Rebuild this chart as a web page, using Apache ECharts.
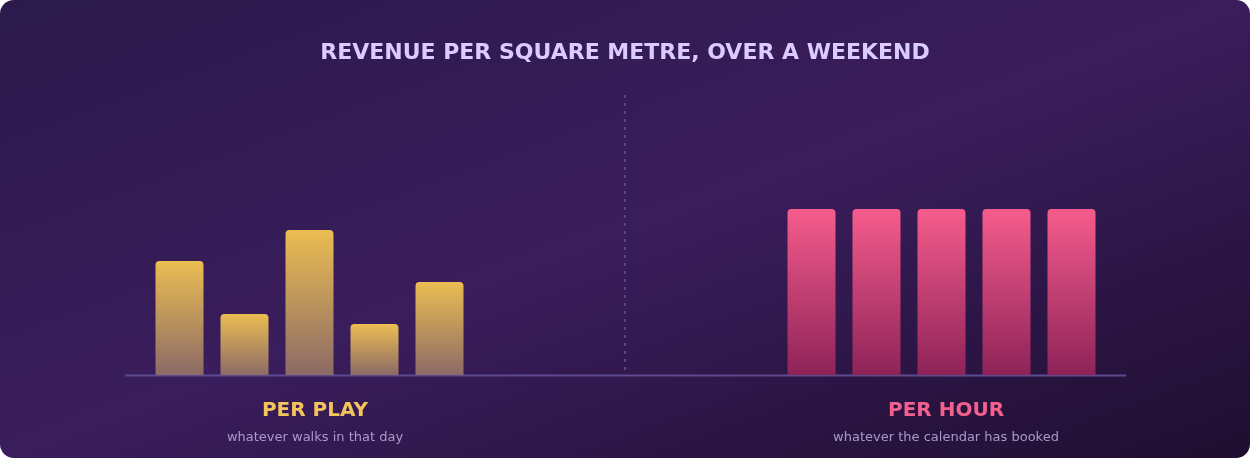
<!DOCTYPE html>
<html><head><meta charset="utf-8">
<script src="https://cdn.jsdelivr.net/npm/echarts@6/dist/echarts.min.js"></script>
<style>
html,body{margin:0;padding:0;background:#fff;}
#c{width:1250px;height:458px;border-radius:14px;overflow:hidden;
background:linear-gradient(160deg,#2b1a4b 0%,#3a1d5c 50%,#1f0e30 100%);}
</style></head><body>
<div id="c"></div>
<script>
const playCats = ['Fri','Sat AM','Sat PM','Sun AM','Sun PM'];
const playValues = [114, 61, 145, 51, 93];
const hourCats = ['Fri','Sat AM','Sat PM','Sun AM','Sun PM'];
const hourValues = [166, 166, 166, 166, 166];

const chart = echarts.init(document.getElementById('c'));
const grad = (a,b)=>new echarts.graphic.LinearGradient(0,0,0,1,[{offset:0,color:a},{offset:1,color:b}]);
const font = 'DejaVu Sans, sans-serif';
chart.setOption({
  title:[
    {text:'REVENUE PER SQUARE METRE, OVER A WEEKEND',left:'center',top:37,
     textStyle:{color:'#dccbff',fontSize:22,fontWeight:'bold',fontFamily:font}},
    {text:'PER PLAY',subtext:'whatever walks in that day',left:310,textAlign:'center',top:396,itemGap:10,
     textStyle:{color:'#f2c55a',fontSize:20,fontWeight:'bold',fontFamily:font},
     subtextStyle:{color:'#ad98cc',fontSize:13,fontFamily:font}},
    {text:'PER HOUR',subtext:'whatever the calendar has booked',left:941,textAlign:'center',top:396,itemGap:10,
     textStyle:{color:'#f2608e',fontSize:20,fontWeight:'bold',fontFamily:font},
     subtextStyle:{color:'#ad98cc',fontSize:13,fontFamily:font}}
  ],
  grid:[{left:147,width:325,top:95,bottom:83},{left:779,width:325,top:95,bottom:83}],
  xAxis:[0,1].map(i=>({type:'category',gridIndex:i,data:i?hourCats:playCats,
    axisLine:{show:false},axisTick:{show:false},axisLabel:{show:false}})),
  yAxis:[0,1].map(i=>({type:'value',gridIndex:i,min:0,max:280,show:false})),
  series:[
    {type:'bar',xAxisIndex:0,yAxisIndex:0,data:playValues,barWidth:48,
     itemStyle:{color:grad('#ebbd52','#8c6a66'),borderRadius:[4,4,0,0]}},
    {type:'bar',xAxisIndex:1,yAxisIndex:1,data:hourValues,barWidth:48,
     itemStyle:{color:grad('#f55c8c','#8e2358'),borderRadius:[4,4,0,0]}}
  ],
  graphic:[
    {type:'line',shape:{x1:125,y1:375.5,x2:1126,y2:375.5},style:{stroke:'#5e4a8e',lineWidth:2}},
    {type:'line',shape:{x1:625,y1:95,x2:625,y2:370},style:{stroke:'#5a4385',lineWidth:2,lineDash:[3,5]}}
  ]
});
</script></body></html>
